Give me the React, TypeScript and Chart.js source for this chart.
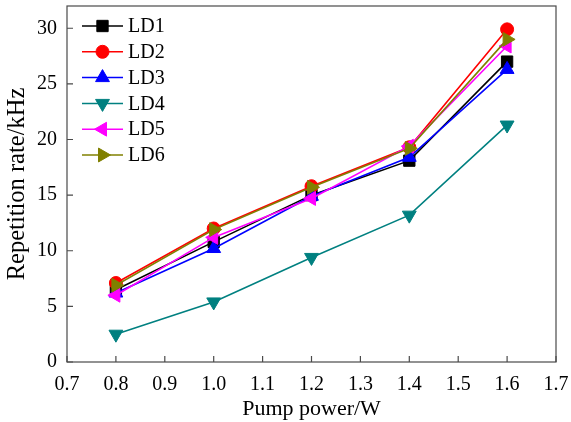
import React, { useEffect, useRef } from "react";
import { Chart, registerables } from "chart.js";
import { drawPoint } from "chart.js/helpers";

Chart.register(...registerables);

const pumpPower = [0.8, 1.0, 1.2, 1.4, 1.6];
const seriesNames = ["LD1", "LD2", "LD3", "LD4", "LD5", "LD6"];
const ld1 = [6.5, 10.8, 15.0, 18.1, 27.0];
const ld2 = [7.1, 12.0, 15.8, 19.3, 29.9];
const ld3 = [6.2, 10.2, 14.9, 18.4, 26.3];
const ld4 = [2.5, 5.4, 9.4, 13.2, 21.3];
const ld5 = [6.0, 11.2, 14.7, 19.4, 28.4];
const ld6 = [6.9, 11.9, 15.7, 19.2, 29.0];
const xTicks = [0.7, 0.8, 0.9, 1.0, 1.1, 1.2, 1.3, 1.4, 1.5, 1.6, 1.7];
const yTicks = [0, 5, 10, 15, 20, 25, 30];

const colors = ["#000000", "#ff0000", "#0000ff", "#008080", "#ff00ff", "#808000"];
const styles: any[] = ["rect", "circle", "triangle", "triangle", "triangle", "triangle"];
const rotations = [0, 0, 0, 180, 270, 90];
const radii = [8, 6.5, 8, 8, 8, 8];

const FONT = "'Liberation Serif', 'Times New Roman', serif";

const frameAndLegend = {
  id: "frameAndLegend",
  afterDraw(chart: any) {
    const { ctx, chartArea: a, scales } = chart;
    ctx.save();
    ctx.strokeStyle = "#4a4a4a";
    ctx.lineWidth = 1.2;
    ctx.strokeRect(a.left, a.top, a.right - a.left, a.bottom - a.top);
    ctx.beginPath();
    const tl = 6;
    scales.x.ticks.forEach((t: any) => {
      const px = scales.x.getPixelForValue(t.value);
      ctx.moveTo(px, a.bottom);
      ctx.lineTo(px, a.bottom - tl);
    });
    scales.y.ticks.forEach((t: any) => {
      const py = scales.y.getPixelForValue(t.value);
      ctx.moveTo(a.left, py);
      ctx.lineTo(a.left + tl, py);
    });
    ctx.stroke();

    chart.data.datasets.forEach((ds: any, i: number) => {
      const y = 26 + i * 25.8;
      ctx.strokeStyle = ds.borderColor;
      ctx.fillStyle = ds.backgroundColor;
      ctx.lineWidth = 1.5;
      ctx.beginPath();
      ctx.moveTo(82, y);
      ctx.lineTo(123, y);
      ctx.stroke();
      ctx.lineWidth = 1;
      drawPoint(ctx, { pointStyle: ds.pointStyle, rotation: ds.pointRotation, radius: ds.pointRadius, borderWidth: 1 } as any, 102.5, y);
      ctx.fillStyle = "#000";
      ctx.font = `20px ${FONT}`;
      ctx.textBaseline = "middle";
      ctx.textAlign = "left";
      ctx.fillText(ds.label, 128, y + 1);
    });
    ctx.restore();
  },
};

export default function App() {
  const ref = useRef<HTMLCanvasElement>(null);
  useEffect(() => {
    const all = [ld1, ld2, ld3, ld4, ld5, ld6];
    const chart = new Chart(ref.current!, {
      type: "line",
      data: {
        datasets: all.map((vals, i) => ({
          label: seriesNames[i],
          data: vals.map((v, j) => ({ x: pumpPower[j], y: v })),
          borderColor: colors[i],
          backgroundColor: colors[i],
          pointBackgroundColor: colors[i],
          pointBorderColor: colors[i],
          borderWidth: 1.6,
          pointStyle: styles[i],
          pointRotation: rotations[i],
          pointRadius: radii[i],
          pointBorderWidth: 1,
          tension: 0,
          clip: false,
          order: 6 - i,
        })),
      },
      options: {
        animation: false,
        responsive: true,
        maintainAspectRatio: false,
        layout: { autoPadding: false, padding: { top: 6, right: 15, left: 0, bottom: 0 } },
        plugins: { legend: { display: false }, tooltip: { enabled: false } },
        scales: {
          x: {
            type: "linear",
            min: 0.7,
            max: 1.7,
            grid: { display: false, drawTicks: false },
            border: { display: false },
            afterFit: (s: any) => {
              s.height = 60;
              s.paddingLeft = 0;
              s.paddingRight = 0;
            },
            afterBuildTicks: (s: any) => { s.ticks = xTicks.map((v) => ({ value: v })); },
            ticks: {
              padding: 11,
              color: "#000",
              font: { family: FONT, size: 20 },
              callback: (v: any) => Number(v).toFixed(1),
              maxRotation: 0,
              autoSkip: false,
            },
            title: { display: true, text: "Pump power/W", color: "#000", font: { family: FONT, size: 22 }, padding: 0 },
          },
          y: {
            type: "linear",
            min: 0,
            max: 32,
            grid: { display: false, drawTicks: false },
            border: { display: false },
            afterFit: (s: any) => {
              s.width = 67;
              s.paddingTop = 0;
              s.paddingBottom = 0;
            },
            afterBuildTicks: (s: any) => { s.ticks = yTicks.map((v) => ({ value: v })); },
            ticks: { padding: 10, color: "#000", font: { family: FONT, size: 20 } },
            title: { display: true, text: "Repetition rate/kHz", color: "#000", font: { family: FONT, size: 24.5 }, padding: 3 },
          },
        },
      },
      plugins: [frameAndLegend],
    });
    return () => chart.destroy();
  }, []);
  return (
    <div style={{ position: "absolute", left: 0, top: 0, width: 571, height: 422, background: "#fff" }}>
      <canvas ref={ref} />
    </div>
  );
}
